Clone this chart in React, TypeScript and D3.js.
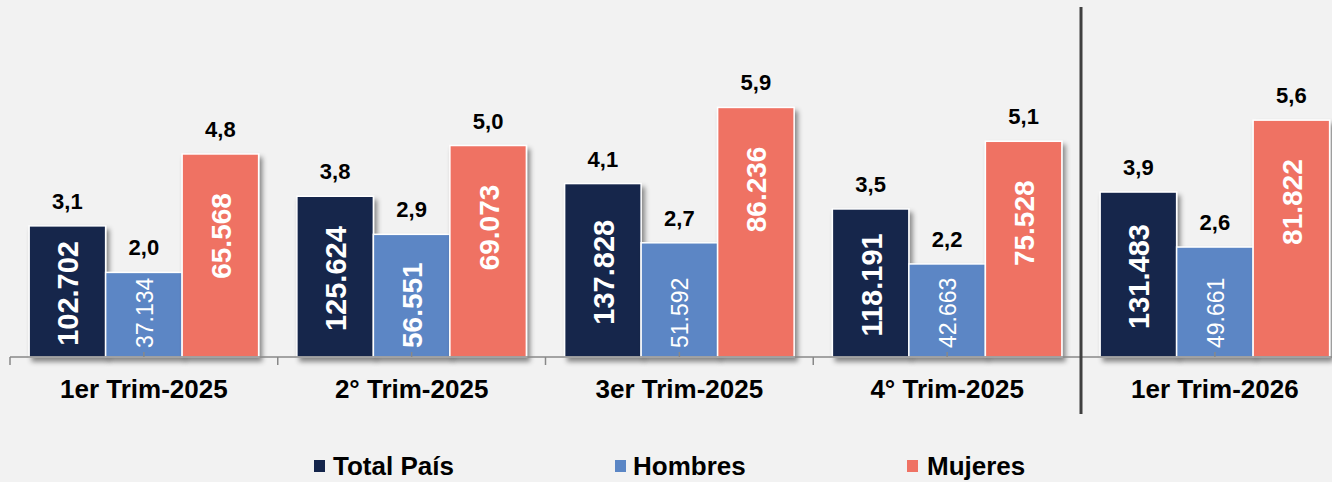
import React from "react";
import * as d3 from "d3";

const categories = ["1er Trim-2025", "2° Trim-2025", "3er Trim-2025", "4° Trim-2025", "1er Trim-2026"];
const seriesNames = ["Total País", "Hombres", "Mujeres"];
const totalRate = [3.1, 3.8, 4.1, 3.5, 3.9];
const hombresRate = [2.0, 2.9, 2.7, 2.2, 2.6];
const mujeresRate = [4.8, 5.0, 5.9, 5.1, 5.6];
const totalCount = ["102.702", "125.624", "137.828", "118.191", "131.483"];
const hombresCount = ["37.134", "56.551", "51.592", "42.663", "49.661"];
const mujeresCount = ["65.568", "69.073", "86.236", "75.528", "81.822"];

const colors = ["#14254B", "#5B86C5", "#EF7264"];
const W = 1332;
const H = 482;
const FONT = "'Liberation Sans', Arial, sans-serif";

export default function App() {
  const rates = [totalRate, hombresRate, mujeresRate];
  const counts = [totalCount, hombresCount, mujeresCount];
  const x0 = d3.scaleBand<string>().domain(categories).range([10, 10 + 267.75 * 5]).paddingInner(0).paddingOuter(0);
  const x1 = d3.scaleBand<number>().domain([0, 1, 2]).range([0, x0.bandwidth()]).paddingInner(0).paddingOuter(0.25);
  const y = d3.scaleLinear().domain([0, 8]).range([357, 357 - 42.3 * 8]);
  const base = y(0);

  const legendItems = [
    { sx: 314, tx: 333 },
    { sx: 615, tx: 633 },
    { sx: 907, tx: 927 },
  ];

  return (
    <svg width={W} height={H} style={{ position: "absolute", left: 0, top: 0, background: "#F2F2F2" }}>
      <defs>
        <filter id="sh" x="-20%" y="-20%" width="150%" height="150%">
          <feDropShadow dx="3" dy="4" stdDeviation="2.5" floodColor="#000" floodOpacity="0.45" />
        </filter>
      </defs>
      <rect x={0} y={0} width={W} height={H} fill="#F2F2F2" />
      {categories.map((c, gi) => (
        <g key={c} transform={`translate(${x0(c)},0)`}>
          {[0, 1, 2].map((si) => {
            const v = rates[si][gi];
            const bx = x1(si)!;
            const bw = x1.bandwidth();
            const top = y(v);
            return (
              <rect key={si} x={bx} y={top} width={bw} height={base - top} fill={colors[si]}
                stroke="#FFFFFF" strokeWidth={1.5} filter="url(#sh)" />
            );
          })}
        </g>
      ))}
      {/* axis */}
      <line x1={10} x2={W} y1={base} y2={base} stroke="#888" strokeWidth={1.5} />
      {d3.range(6).map((i) => {
        const xx = 10 + 267.75 * i;
        return <line key={"t" + i} x1={xx} x2={xx} y1={base} y2={base + 8} stroke="#888" strokeWidth={1.5} />;
      })}
      {categories.map((c) => {
        const cx = x0(c)! + x0.bandwidth() / 2;
        return <line key={"m" + c} x1={cx} x2={cx} y1={base - 5} y2={base} stroke="#888" strokeWidth={1.5} />;
      })}
      {/* labels */}
      {categories.map((c, gi) => (
        <g key={"l" + c} transform={`translate(${x0(c)},0)`}>
          {[0, 1, 2].map((si) => {
            const v = rates[si][gi];
            const cx = x1(si)! + x1.bandwidth() / 2;
            const top = y(v);
            const label = d3.format(".1f")(v).replace(".", ",");
            let inner;
            const cnt = counts[si][gi];
            if (si === 0) {
              const cy = (top + base) / 2 + 2;
              inner = (
                <text transform={`translate(${cx + 1},${cy}) rotate(-90)`} textAnchor="middle" dominantBaseline="central"
                  fill="#fff" fontFamily={FONT} fontWeight="bold" fontSize={29}>{cnt}</text>
              );
            } else if (si === 1) {
              const bold = gi === 1;
              inner = (
                <text transform={`translate(${cx + 1},${348}) rotate(-90)`} textAnchor="start" dominantBaseline="central"
                  fill="#fff" fontFamily={FONT} fontWeight={bold ? "bold" : "normal"} fontSize={bold ? 28 : 23}>{cnt}</text>
              );
            } else {
              const cy = top + 82;
              inner = (
                <text transform={`translate(${cx + 1},${cy}) rotate(-90)`} textAnchor="middle" dominantBaseline="central"
                  fill="#fff" fontFamily={FONT} fontWeight="bold" fontSize={28}>{cnt}</text>
              );
            }
            return (
              <g key={si}>
                <text x={cx} y={top - 17} textAnchor="middle" fill="#000" fontFamily={FONT} fontWeight="bold" fontSize={22}>{label}</text>
                {inner}
              </g>
            );
          })}
          <text x={x0.bandwidth() / 2} y={398} textAnchor="middle" fill="#000" fontFamily={FONT} fontWeight="bold" fontSize={26}>{c}</text>
        </g>
      ))}
      {/* separator */}
      <line x1={10 + 267.75 * 4} x2={10 + 267.75 * 4} y1={7} y2={414} stroke="#404040" strokeWidth={3} />
      {/* legend */}
      {seriesNames.map((n, i) => (
        <g key={n}>
          <rect x={legendItems[i].sx} y={460} width={11} height={12} fill={colors[i]} />
          <text x={legendItems[i].tx} y={475} fill="#000" fontFamily={FONT} fontWeight="bold" fontSize={26}>{n}</text>
        </g>
      ))}
    </svg>
  );
}
